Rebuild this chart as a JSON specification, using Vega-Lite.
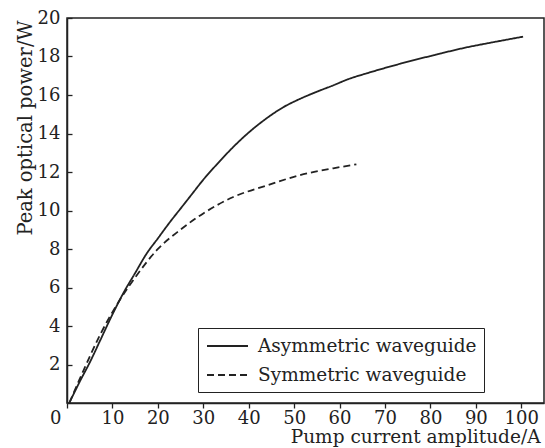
{
  "$schema": "https://vega.github.io/schema/vega-lite/v6.json",
  "width": 477,
  "height": 385,
  "autosize": {"type": "none"},
  "padding": {"left": 67, "top": 18, "right": 1, "bottom": 45},
  "background": "white",
  "config": {
    "view": {"stroke": "#222", "strokeWidth": 1.5},
    "font": "DejaVu Serif",
    "axis": {
      "grid": false,
      "domainColor": "#222",
      "domainWidth": 1.5,
      "tickColor": "#222",
      "tickWidth": 1.3,
      "labelFont": "DejaVu Serif",
      "titleFont": "DejaVu Serif",
      "labelFontSize": 18,
      "titleFontSize": 18.5,
      "labelColor": "#222",
      "titleColor": "#222",
      "titleFontWeight": "normal"
    }
  },
  "data": {
    "values": [
      {"series": "Asymmetric waveguide", "current": 0.5, "power": 0.0},
      {"series": "Asymmetric waveguide", "current": 3, "power": 1.2},
      {"series": "Asymmetric waveguide", "current": 5, "power": 2.1},
      {"series": "Asymmetric waveguide", "current": 7.5, "power": 3.35},
      {"series": "Asymmetric waveguide", "current": 10, "power": 4.6},
      {"series": "Asymmetric waveguide", "current": 12.5, "power": 5.75},
      {"series": "Asymmetric waveguide", "current": 15, "power": 6.75},
      {"series": "Asymmetric waveguide", "current": 17.5, "power": 7.75},
      {"series": "Asymmetric waveguide", "current": 20, "power": 8.55},
      {"series": "Asymmetric waveguide", "current": 22.5, "power": 9.35},
      {"series": "Asymmetric waveguide", "current": 25, "power": 10.1},
      {"series": "Asymmetric waveguide", "current": 27.5, "power": 10.85},
      {"series": "Asymmetric waveguide", "current": 30, "power": 11.6},
      {"series": "Asymmetric waveguide", "current": 33, "power": 12.4},
      {"series": "Asymmetric waveguide", "current": 36.6, "power": 13.3},
      {"series": "Asymmetric waveguide", "current": 40, "power": 14.05},
      {"series": "Asymmetric waveguide", "current": 44, "power": 14.8},
      {"series": "Asymmetric waveguide", "current": 47.5, "power": 15.35},
      {"series": "Asymmetric waveguide", "current": 51.3, "power": 15.8},
      {"series": "Asymmetric waveguide", "current": 55, "power": 16.17},
      {"series": "Asymmetric waveguide", "current": 58.6, "power": 16.5},
      {"series": "Asymmetric waveguide", "current": 62, "power": 16.83},
      {"series": "Asymmetric waveguide", "current": 65.9, "power": 17.12},
      {"series": "Asymmetric waveguide", "current": 73.3, "power": 17.62},
      {"series": "Asymmetric waveguide", "current": 80.6, "power": 18.06},
      {"series": "Asymmetric waveguide", "current": 87.9, "power": 18.47},
      {"series": "Asymmetric waveguide", "current": 94, "power": 18.75},
      {"series": "Asymmetric waveguide", "current": 100.4, "power": 19.03},
      {"series": "Symmetric waveguide", "current": 0.5, "power": 0.0},
      {"series": "Symmetric waveguide", "current": 3.65, "power": 1.7},
      {"series": "Symmetric waveguide", "current": 7.3, "power": 3.55},
      {"series": "Symmetric waveguide", "current": 11.35, "power": 5.25},
      {"series": "Symmetric waveguide", "current": 15.4, "power": 6.65},
      {"series": "Symmetric waveguide", "current": 19.8, "power": 7.95},
      {"series": "Symmetric waveguide", "current": 24.9, "power": 8.99},
      {"series": "Symmetric waveguide", "current": 30, "power": 9.85},
      {"series": "Symmetric waveguide", "current": 36.6, "power": 10.7},
      {"series": "Symmetric waveguide", "current": 44, "power": 11.3},
      {"series": "Symmetric waveguide", "current": 51.3, "power": 11.84},
      {"series": "Symmetric waveguide", "current": 58.6, "power": 12.19},
      {"series": "Symmetric waveguide", "current": 63.7, "power": 12.4}
    ]
  },
  "mark": {"type": "line", "color": "#222", "strokeWidth": 1.8, "interpolate": "monotone"},
  "encoding": {
    "x": {
      "field": "current",
      "type": "quantitative",
      "scale": {"domain": [0, 105], "nice": false},
      "axis": {
        "title": "Pump current amplitude/A",
        "values": [0, 10, 20, 30, 40, 50, 60, 70, 80, 90, 100],
        "tickSize": 5,
        "labelPadding": 1,
        "labelFlush": false,
        "labelAlign": {"condition": {"test": "datum.value == 0", "value": "right"}, "value": "center"},
        "labelOffset": {"condition": {"test": "datum.value == 0", "value": -6}, "value": 0},
        "titleAnchor": "end",
        "titleAlign": "right",
        "titleBaseline": "alphabetic",
        "titleX": 473,
        "titleY": 39,
        "encode": {
          "ticks": {"update": {"y2": {"value": -5}}}
        }
      }
    },
    "y": {
      "field": "power",
      "type": "quantitative",
      "scale": {"domain": [0, 20], "nice": false},
      "axis": {
        "title": "Peak optical power/W",
        "values": [2, 4, 6, 8, 10, 12, 14, 16, 18, 20],
        "tickSize": -5,
        "labelPadding": 12,
        "titleAnchor": "end",
        "titleAlign": "right",
        "titleAngle": -90,
        "titleFontSize": 19.5,
        "titleBaseline": "alphabetic",
        "titleX": -36,
        "titleY": 2
      }
    },
    "strokeDash": {
      "field": "series",
      "type": "nominal",
      "scale": {"domain": ["Asymmetric waveguide", "Symmetric waveguide"], "range": [[1, 0], [7, 4]]},
      "legend": {
        "title": null,
        "orient": "none",
        "legendX": 131,
        "legendY": 310,
        "direction": "vertical",
        "strokeColor": "#222",
        "fillColor": "white",
        "padding": 7,
        "symbolType": "M-0.9,0H3.2",
        "symbolSize": 400,
        "symbolStrokeColor": "#222",
        "symbolStrokeWidth": 1.8,
        "labelFont": "DejaVu Serif",
        "labelFontSize": 18.5,
        "labelColor": "#222",
        "labelOffset": 31,
        "labelLimit": 400,
        "rowPadding": 8
      }
    }
  }
}
